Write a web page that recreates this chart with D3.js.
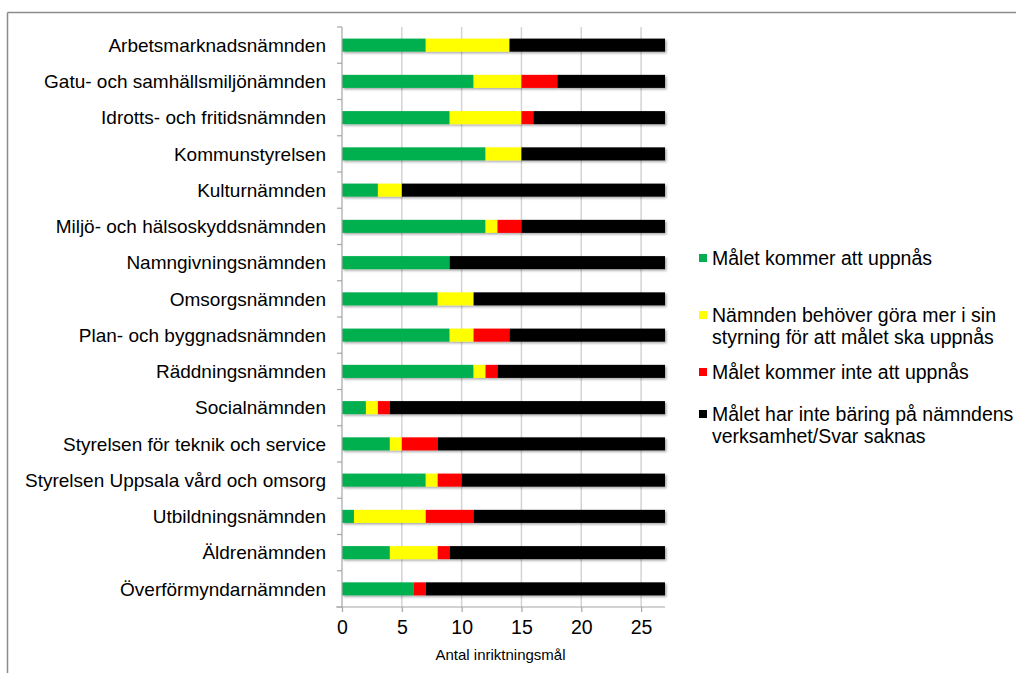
<!DOCTYPE html>
<html>
<head>
<meta charset="utf-8">
<script src="https://cdn.jsdelivr.net/npm/d3@7"></script>
<style>
  body { margin: 0; background: #fff; }
  svg { font-family: "Liberation Sans", Arial, sans-serif; }
</style>
</head>
<body>
<svg width="1016" height="673"></svg>
<script>
// categories, top to bottom
var categories = [
  'Arbetsmarknadsnämnden',
  'Gatu- och samhällsmiljönämnden',
  'Idrotts- och fritidsnämnden',
  'Kommunstyrelsen',
  'Kulturnämnden',
  'Miljö- och hälsoskyddsnämnden',
  'Namngivningsnämnden',
  'Omsorgsnämnden',
  'Plan- och byggnadsnämnden',
  'Räddningsnämnden',
  'Socialnämnden',
  'Styrelsen för teknik och service',
  'Styrelsen Uppsala vård och omsorg',
  'Utbildningsnämnden',
  'Äldrenämnden',
  'Överförmyndarnämnden'
];

// series values
var uppnas      = [7, 11, 9, 12, 3, 12, 9, 8, 9, 11, 2, 4, 7, 1, 4, 6];
var goraMer     = [7, 4, 6, 3, 2, 1, 0, 3, 2, 1, 1, 1, 1, 6, 4, 0];
var inteUppnas  = [0, 3, 1, 0, 0, 2, 0, 0, 3, 1, 1, 3, 2, 4, 1, 1];
var ingenBaring = [13, 9, 11, 12, 22, 12, 18, 16, 13, 14, 23, 19, 17, 16, 18, 20];

var seriesNames = [
  ['Målet kommer att uppnås'],
  ['Nämnden behöver göra mer i sin', 'styrning för att målet ska uppnås'],
  ['Målet kommer inte att uppnås'],
  ['Målet har inte bäring på nämndens', 'verksamhet/Svar saknas']
];
var colors = ['#00b050', '#ffff00', '#ff0000', '#000000'];
var xTicks = [0, 5, 10, 15, 20, 25];

var keys = ['a', 'b', 'c', 'd'];
var table = categories.map(function(c, i) {
  return { cat: c, a: uppnas[i], b: goraMer[i], c: inteUppnas[i], d: ingenBaring[i] };
});

var svg = d3.select('svg');

// frame lines (top + left)
svg.append('line').attr('x1', 7.5).attr('x2', 1016).attr('y1', 12.5).attr('y2', 12.5)
   .attr('stroke', '#8c8c8c').attr('stroke-width', 1.5);
svg.append('line').attr('x1', 7.5).attr('x2', 7.5).attr('y1', 12.5).attr('y2', 673)
   .attr('stroke', '#8c8c8c').attr('stroke-width', 1.5);

var pLeft = 342, pRight = 665, pTop = 27, pBottom = 607;

var x = d3.scaleLinear().domain([0, 27]).range([pLeft, pRight]);
var y = d3.scaleBand().domain(categories).range([pTop, pBottom]).paddingInner(0.64).paddingOuter(0.32);

// gridlines
svg.append('g')
   .selectAll('line')
   .data(xTicks.slice(1))
   .enter().append('line')
     .attr('x1', function(d) { return x(d); })
     .attr('x2', function(d) { return x(d); })
     .attr('y1', pTop).attr('y2', pBottom)
     .attr('stroke', '#d4d4d4').attr('stroke-width', 1.5);

// shadow filter
var defs = svg.append('defs');
var f = defs.append('filter').attr('id', 'sh').attr('x', '-5%').attr('y', '-5%').attr('width', '110%').attr('height', '110%');
f.append('feDropShadow').attr('dx', 1.5).attr('dy', 1.5).attr('stdDeviation', 0.8)
   .attr('flood-color', '#000').attr('flood-opacity', 0.35);

var stacked = d3.stack().keys(keys)(table);

var barG = svg.append('g').attr('filter', 'url(#sh)');
barG.selectAll('g')
   .data(stacked)
   .enter().append('g')
     .attr('fill', function(d, i) { return colors[i]; })
   .selectAll('rect')
   .data(function(d) { return d; })
   .enter().append('rect')
     .attr('x', function(d) { return x(d[0]); })
     .attr('width', function(d) { return x(d[1]) - x(d[0]); })
     .attr('y', function(d) { return y(d.data.cat); })
     .attr('height', y.bandwidth());

// y axis
var yAxis = svg.append('g').attr('transform', 'translate(' + pLeft + ',0)');
yAxis.append('line').attr('x1', 0).attr('x2', 0).attr('y1', pTop).attr('y2', pBottom)
   .attr('stroke', '#a6a6a6').attr('stroke-width', 1.2);
yAxis.selectAll('.yt')
   .data(d3.range(categories.length + 1))
   .enter().append('line')
     .attr('x1', -5).attr('x2', 0)
     .attr('y1', function(i) { return pTop + i * (pBottom - pTop) / categories.length; })
     .attr('y2', function(i) { return pTop + i * (pBottom - pTop) / categories.length; })
     .attr('stroke', '#a6a6a6').attr('stroke-width', 1.2);
yAxis.selectAll('text')
   .data(categories)
   .enter().append('text')
     .attr('x', -16)
     .attr('y', function(d) { return y(d) + y.bandwidth() / 2; })
     .attr('dy', '0.35em')
     .attr('text-anchor', 'end')
     .attr('font-size', 19)
     .attr('fill', '#000')
     .text(function(d) { return d; });

// x axis
var xAxis = svg.append('g').attr('transform', 'translate(0,' + pBottom + ')')
   .call(d3.axisBottom(x).tickValues(xTicks).tickSize(5).tickPadding(8));
xAxis.select('.domain').remove();
xAxis.append('line').attr('x1', pLeft - 6).attr('x2', pRight).attr('y1', 0).attr('y2', 0)
   .attr('stroke', '#a6a6a6').attr('stroke-width', 1.2);
xAxis.selectAll('.tick line').attr('stroke', '#a6a6a6').attr('stroke-width', 1.2);
xAxis.selectAll('.tick text')
   .attr('font-size', 19.5).attr('fill', '#000')
   .attr('font-family', '"Liberation Sans", Arial, sans-serif');

svg.append('text')
   .attr('x', (pLeft + pRight) / 2 - 3).attr('y', 660)
   .attr('text-anchor', 'middle')
   .attr('font-size', 15)
   .text('Antal inriktningsmål');

// legend
var legendY = [258, 315, 372, 414];
var lg = svg.append('g');
seriesNames.forEach(function(lines, i) {
  lg.append('rect')
    .attr('x', 699).attr('y', legendY[i] - 4)
    .attr('width', 8).attr('height', 8)
    .attr('fill', colors[i]);
  lines.forEach(function(t, j) {
    lg.append('text')
      .attr('x', 712).attr('y', legendY[i] + j * 22)
      .attr('dy', '0.35em')
      .attr('font-size', 19.5)
      .text(t);
  });
});
</script>
</body>
</html>
